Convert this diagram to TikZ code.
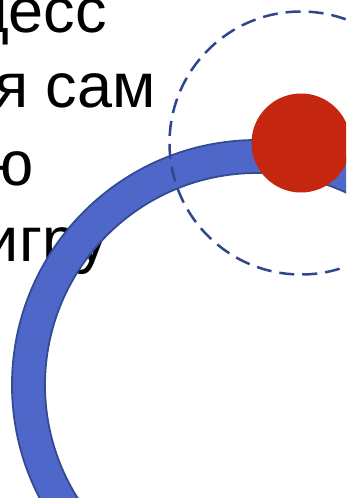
\documentclass[tikz,border=0pt]{standalone}
\usepackage{fontspec}
\setmainfont{Liberation Sans}
\usepackage{xcolor}
\usepackage{tikz}
\usetikzlibrary{positioning}

\definecolor{ringblue}{RGB}{79,103,200}
\definecolor{ringedge}{RGB}{50,75,145}
\definecolor{balred}{RGB}{196,38,15}
\definecolor{dashblue}{RGB}{47,69,140}

\begin{document}
\begin{tikzpicture}[
            x=1pt, y=-1pt,
            every node/.style={inner sep=0pt, anchor=base east, font=\fontsize{63}{76}\selectfont},
            track/.style={fill=ringblue, draw=ringedge, line width=1.8pt, even odd rule},
            orbit/.style={draw=dashblue, line width=2.5pt, dash pattern=on 15pt off 8pt}
        ]
            \useasboundingbox (0,0) rectangle (346,498);
            \clip (0,0) rectangle (346,498);
            \node (l1) at (107,32) {цесс};
            \node (l2) at (156,107) {я сам};
            \node (l3) at (34,185) {ю};
            \node (l4) at (108,261) {игру};
            \path[track] (257,385) circle[radius=245pt] (257,385) circle[radius=212pt];
            \fill[balred] (301,143) circle[radius=49.5pt];
            \draw[orbit] (301,143) circle[radius=131.5pt];
        \end{tikzpicture}
\end{document}
